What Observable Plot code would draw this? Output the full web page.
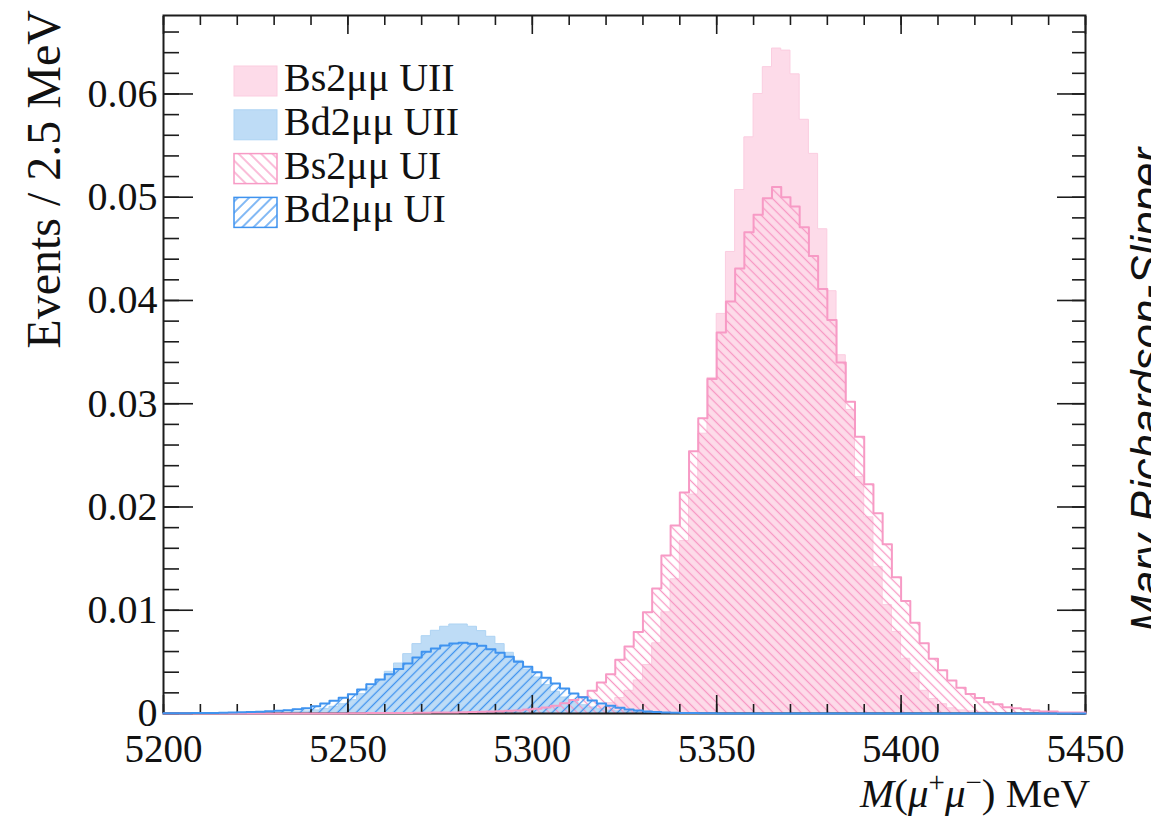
<!DOCTYPE html>
<html>
<head>
<meta charset="utf-8">
<script src="https://cdn.jsdelivr.net/npm/d3@7"></script>
<script src="https://cdn.jsdelivr.net/npm/@observablehq/plot@0.6"></script>
<style>
  html, body { margin: 0; padding: 0; background: white; }
  #chart svg { display: block; }
</style>
</head>
<body>
<div id="chart"></div>
<script>
// ---- Data (values per 2.5 MeV bin, 100 bins from 5200 to 5450 MeV) ----
const xStart = 5200;
const binWidth = 2.5;
const nBins = 100;

const seriesNames = ["Bs2\u03bc\u03bc UII", "Bd2\u03bc\u03bc UII", "Bs2\u03bc\u03bc UI", "Bd2\u03bc\u03bc UI"];

const bsUII = [
  0,0,0,0,0,0,0,0,0,0,
  0,0,0,0,0,0,0,0,0,0,
  0,0,0,0,0,0,0,0,0,0,
  0,0,0,0,0,0,0.00003,0.00004,0.00005,0.00007,
  0.0001,0.00012,0.00016,0.0002,0.0003,0.0004,0.0005,0.0007,0.0010,0.0015,
  0.0022,0.0032,0.0047,0.0068,0.0098,0.0130,0.0167,0.0212,0.0271,0.0325,
  0.0387,0.0447,0.0507,0.0558,0.0600,0.0626,0.0644,0.0642,0.0619,0.0575,
  0.0542,0.0469,0.0409,0.0347,0.0294,0.0229,0.0190,0.0142,0.0105,0.0079,
  0.0053,0.0039,0.0022,0.0014,0.0009,0.0005,0.0003,0.0002,0.0001,0.0001,
  0.00005,0.00003,0.00002,0,0,0,0,0,0,0
];

const bdUII = [
  0.00001,0.00001,0.00001,0.00001,0.00001,0.00001,0.00001,0.00002,0.00002,0.00002,
  0.00003,0.00004,0.00006,0.00009,0.00013,0.0002,0.0003,0.00045,0.00065,0.0009,
  0.00129,0.00187,0.00252,0.00323,0.00404,0.00484,0.00575,0.00672,0.00749,0.00801,
  0.0084,0.00862,0.00862,0.0084,0.00798,0.00743,0.00672,0.00588,0.0051,0.00426,
  0.00349,0.00275,0.0021,0.00155,0.00113,0.0008,0.00058,0.0004,0.00028,0.0002,
  0.00014,0.0001,0.00007,0.00005,0.00003,0.00002,0.00001,0,0,0,
  0,0,0,0,0,0,0,0,0,0,
  0,0,0,0,0,0,0,0,0,0,
  0,0,0,0,0,0,0,0,0,0,
  0,0,0,0,0,0,0,0,0,0
];

const bsUI = [
  0,0,0,0,0,0,0,0,0,0,
  0,0,0,0,0,0,0,0,0,0,
  0.00003,0.00003,0.00004,0.00004,0.00005,0.00005,0.00006,0.00007,0.00008,0.00009,
  0.0001,0.0001,0.00012,0.00014,0.00016,0.0002,0.00022,0.00026,0.0003,0.00038,
  0.00046,0.00058,0.00075,0.001,0.0013,0.0016,0.0022,0.003,0.0038,0.0052,
  0.0065,0.0079,0.0098,0.0121,0.0153,0.0182,0.0214,0.0254,0.0286,0.0324,
  0.0369,0.0399,0.0431,0.0466,0.0483,0.0499,0.0510,0.0500,0.0491,0.0471,
  0.0443,0.0411,0.0381,0.0340,0.0302,0.0268,0.0222,0.0194,0.0164,0.0132,
  0.0109,0.0088,0.0068,0.0053,0.0042,0.0032,0.0025,0.0019,0.0015,0.0011,
  0.0009,0.0006,0.0005,0.0004,0.0003,0.0002,0.0002,0.0001,0.0001,0.0001
];

const bdUI = [
  0.00002,0.00003,0.00003,0.00004,0.00005,0.00006,0.00008,0.0001,0.00012,0.00015,
  0.00018,0.00022,0.00026,0.00032,0.00042,0.00052,0.00071,0.00097,0.00123,0.00152,
  0.00187,0.00233,0.00284,0.00329,0.00381,0.0043,0.00484,0.00543,0.00598,0.0063,
  0.00659,0.00678,0.00685,0.00675,0.00656,0.00623,0.00588,0.00549,0.00501,0.00452,
  0.0040,0.00346,0.00291,0.00242,0.00194,0.00158,0.00126,0.00097,0.00074,0.00055,
  0.00039,0.0003,0.0002,0.00015,0.0001,0.00007,0.00005,0.00004,0.00003,0.00002,
  0.00001,0.00001,0,0,0,0,0,0,0,0,
  0,0,0,0,0,0,0,0,0,0,
  0,0,0,0,0,0,0,0,0,0,
  0,0,0,0,0,0,0,0,0,0
];

const xTicks = [5200, 5250, 5300, 5350, 5400, 5450];
const xTickLabels = ["5200", "5250", "5300", "5350", "5400", "5450"];
const xMinorTicks = d3.range(5200, 5451, 10);
const yTicks = [0, 0.01, 0.02, 0.03, 0.04, 0.05, 0.06];
const yTickLabels = ["0", "0.01", "0.02", "0.03", "0.04", "0.05", "0.06"];
const yMinorTicks = d3.range(0, 67).filter(i => i % 2 === 0).map(i => +(i / 1000).toFixed(3));
const yMax = 0.0676;

const yTitle = "Events / 2.5 MeV";
const author = "Mary Richardson-Slipper";

// ---- Styles ----
const C = {
  bsFill: "#fddbe9", bsFillEdge: "#fbcde0",
  bdFill: "#bedcf6", bdFillEdge: "#add3f3",
  bsLine: "#f79ac5", bdLine: "#3f93ef",
  axis: "#1c1c1c"
};
const serif = "'Liberation Serif', 'DejaVu Serif', serif";

// ---- Build edge-point tables from the arrays ----
const edges = d3.range(nBins + 1).map(i => xStart + binWidth * i);
function areaPts(vals) {
  return edges.map((x, i) => ({x, v: vals[Math.min(i, nBins - 1)]}));
}
function linePts(vals) {
  return [{x: edges[0], v: 0}, ...areaPts(vals), {x: edges[nBins], v: 0}];
}

const stepOpts = {x: "x", y: "v", curve: "step-after"};

const svg = Plot.plot({
  width: 1151,
  height: 837,
  marginLeft: 163,
  marginRight: 66,
  marginTop: 15,
  marginBottom: 124,
  style: {background: "white", fontFamily: serif, color: C.axis, overflow: "hidden"},
  x: {domain: [5200, 5450], axis: null, label: null},
  y: {domain: [0, yMax], axis: null, label: null},
  marks: [
    // filled (UII) histograms
    Plot.areaY(areaPts(bsUII), {...stepOpts, fill: C.bsFill, stroke: C.bsFillEdge, strokeWidth: 1}),
    Plot.areaY(areaPts(bdUII), {...stepOpts, fill: C.bdFill, stroke: C.bdFillEdge, strokeWidth: 1}),
    // hatched (UI) histograms
    Plot.areaY(areaPts(bsUI), {...stepOpts, fill: "url(#hbs)"}),
    Plot.areaY(areaPts(bdUI), {...stepOpts, fill: "url(#hbd)"}),
    // frame
    Plot.frame({stroke: C.axis, strokeWidth: 2}),
    // ticks (inward, on all four sides)
    Plot.axisY(yTicks, {anchor: "left", tickSize: -30, fill: "none", stroke: C.axis, strokeWidth: 1.6, label: null}),
    Plot.axisY(yMinorTicks, {anchor: "left", tickSize: -16, fill: "none", stroke: C.axis, strokeWidth: 1.6, label: null}),
    Plot.axisY(yTicks, {anchor: "right", tickSize: -29, fill: "none", stroke: C.axis, strokeWidth: 1.6, label: null}),
    Plot.axisY(yMinorTicks, {anchor: "right", tickSize: -14, fill: "none", stroke: C.axis, strokeWidth: 1.6, label: null}),
    Plot.axisX(xTicks, {anchor: "bottom", tickSize: -18, fill: "none", stroke: C.axis, strokeWidth: 1.6, label: null}),
    Plot.axisX(xMinorTicks, {anchor: "bottom", tickSize: -9, fill: "none", stroke: C.axis, strokeWidth: 1.6, label: null}),
    Plot.axisX(xTicks, {anchor: "top", tickSize: -18, fill: "none", stroke: C.axis, strokeWidth: 1.6, label: null}),
    Plot.axisX(xMinorTicks, {anchor: "top", tickSize: -9, fill: "none", stroke: C.axis, strokeWidth: 1.6, label: null}),
    // tick labels
    Plot.axisY(yTicks, {anchor: "left", tickSize: 0, tickPadding: 6, label: null,
      tickFormat: d => yTickLabels[yTicks.indexOf(d)], fontSize: 40, fontFamily: serif, fill: "#111"}),
    Plot.axisX(xTicks, {anchor: "bottom", tickSize: 0, tickPadding: 21, label: null,
      tickFormat: d => xTickLabels[xTicks.indexOf(d)], fontSize: 39, fontFamily: serif, fill: "#111"}),
    // histogram outlines
    Plot.lineY(linePts(bsUI), {...stepOpts, stroke: C.bsLine, strokeWidth: 2}),
    Plot.lineY(linePts(bdUI), {...stepOpts, stroke: C.bdLine, strokeWidth: 2})
  ]
});

const s = d3.select(svg);
const defs = s.insert("defs", ":first-child");
function hatch(id, color, angle, spacing, width) {
  const p = defs.append("pattern")
    .attr("id", id).attr("patternUnits", "userSpaceOnUse")
    .attr("width", spacing).attr("height", spacing)
    .attr("patternTransform", `rotate(${angle})`);
  p.append("line").attr("x1", spacing / 2).attr("y1", -1).attr("x2", spacing / 2).attr("y2", spacing + 1)
    .attr("stroke", color).attr("stroke-width", width);
}
hatch("hbs", C.bsLine, -45, 6.6, 1.3);
hatch("hbd", C.bdLine, 45, 6.6, 1.3);
hatch("hbsl", C.bsLine, -45, 8, 1.3);
hatch("hbdl", C.bdLine, 45, 8, 1.3);

// Legend
const legendStyles = [
  {fill: C.bsFill, stroke: C.bsFillEdge, sw: 1},
  {fill: C.bdFill, stroke: C.bdFillEdge, sw: 1},
  {fill: "url(#hbsl)", stroke: C.bsLine, sw: 1.5},
  {fill: "url(#hbdl)", stroke: C.bdLine, sw: 1.5}
];
const lg = s.append("g");
seriesNames.forEach((name, i) => {
  const y0 = 66 + i * 43.8;
  lg.append("rect").attr("x", 234).attr("y", y0).attr("width", 43).attr("height", 30)
    .attr("fill", legendStyles[i].fill).attr("stroke", legendStyles[i].stroke).attr("stroke-width", legendStyles[i].sw);
  lg.append("text").attr("x", 284).attr("y", y0 + 25).attr("text-anchor", "start")
    .attr("font-family", serif).attr("font-size", 40)
    .attr("fill", "#111").text(name);
});

// Y-axis title
s.append("text")
  .attr("transform", "translate(60,10) rotate(-90)")
  .attr("text-anchor", "end").attr("font-family", serif).attr("font-size", 48).attr("fill", "#111")
  .text(yTitle);

// X-axis title: M(μ+μ−) MeV
const xt = s.append("text").attr("x", 1090).attr("y", 807).attr("text-anchor", "end")
  .attr("font-family", serif).attr("font-size", 41).attr("fill", "#111");
xt.append("tspan").attr("font-style", "italic").text("M");
xt.append("tspan").text("(");
xt.append("tspan").attr("font-style", "italic").text("\u03bc");
xt.append("tspan").attr("font-size", 29).attr("dy", -15).text("+");
xt.append("tspan").attr("font-style", "italic").attr("dy", 15).text("\u03bc");
xt.append("tspan").attr("font-size", 29).attr("dy", -15).text("\u2212");
xt.append("tspan").attr("dy", 15).text(")");
xt.append("tspan").text(" MeV");

// Author text, rotated, running off the right edge
s.append("text")
  .attr("transform", "translate(1162,632) rotate(-90)")
  .attr("text-anchor", "start")
  .attr("font-family", "'Liberation Sans', Arial, sans-serif").attr("font-style", "italic")
  .attr("font-size", 44).attr("fill", "#111")
  .text(author);

document.getElementById("chart").appendChild(svg);
</script>
</body>
</html>
